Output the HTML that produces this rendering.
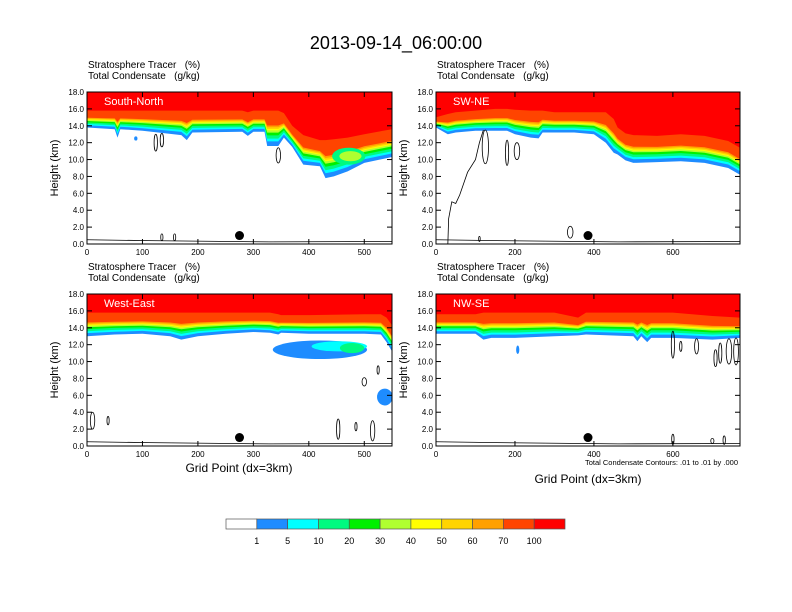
<!DOCTYPE html>
<html><head><meta charset="utf-8"><style>
body{margin:0;background:#fff;}
svg{display:block;font-family:"Liberation Sans",sans-serif;}
text{white-space:pre;}
</style></head><body>
<svg id="fig" width="792" height="612" viewBox="0 0 792 612" xmlns="http://www.w3.org/2000/svg">
<rect width="792" height="612" fill="#fff"/>
<text x="396" y="49" font-size="18" text-anchor="middle">2013-09-14_06:00:00</text>
</svg>
<script>
// ---- data ----
const levelLabels=["1","5","10","20","30","40","50","60","70","100"];
const levelColors=["#ffffff","#1e8cff","#00ffff","#00fa80","#00f000","#b0ff30","#ffff00","#ffd400","#ffa000","#ff4400","#ff0000"];
const levelFracs=[0,0.13,0.21,0.3,0.38,0.44,0.48,0.53,0.58];
const p1X=[0,50,55,60,100,170,180,190,280,290,300,320,325,345,355,370,390,420,430,445,470,500,550];
const p1Blue=[13.8,13.6,12.6,13.6,13.4,12.9,12.3,13.2,13.3,12.8,13.3,13.3,11.6,11.6,12.6,11.5,9.4,9.2,7.8,8.0,8.6,9.6,10.3];
const p1Red=[15.8,15.8,15.8,15.8,15.8,15.8,15.8,15.8,15.8,15.6,15.8,15.8,15.8,15.8,15.5,14.0,12.9,12.3,12.3,12.4,12.6,13.0,13.6];
const p2X=[0,30,50,100,150,180,200,240,260,270,300,350,400,430,450,460,480,500,560,620,680,740,770];
const p2Blue=[13.8,13.0,13.2,13.4,13.4,13.4,13.0,12.6,12.5,13.2,13.2,13.2,13.0,12.0,10.8,10.6,9.9,9.6,9.7,9.8,9.6,9.0,8.2];
const p2Red=[15.0,15.4,15.6,15.8,16.0,16.0,15.9,15.8,15.8,15.8,15.6,15.6,15.6,15.6,14.8,13.8,13.1,12.9,12.8,13.0,12.8,12.2,11.4];
const p3X=[0,50,100,150,170,200,250,300,330,345,350,400,500,530,540,550];
const p3Blue=[13.0,13.2,13.3,13.0,12.6,13.0,13.3,13.5,13.4,13.2,13.4,13.3,13.3,13.2,12.3,11.2];
const p3Red=[15.8,15.8,15.8,15.8,15.8,15.8,15.8,15.8,15.8,15.6,15.5,15.5,15.6,15.6,15.2,14.3];
const p4X=[0,100,120,140,200,300,360,380,500,510,520,535,545,600,700,770];
const p4Blue=[13.3,13.3,12.6,12.8,12.8,13.0,13.1,13.2,13.0,12.4,13.0,12.3,12.8,12.8,12.6,12.8];
const p4Red=[15.6,15.6,15.8,15.8,15.8,15.8,15.2,15.8,15.8,15.8,15.8,15.8,15.8,15.8,15.4,15.2];
// blobs: [x, km, rx(grid), ry(km), colorIndex]
const p1Blobs=[[472,10.4,30,1.0,3],[475,10.4,20,0.6,5],[88,12.5,3,0.25,1]];
const p2Blobs=[];
const p3Blobs=[[420,11.4,85,1.1,1],[455,11.8,50,0.6,2],[478,11.6,22,0.6,3],[537,5.8,14,1.0,1]];
const p4Blobs=[[207,11.4,4,0.5,1]];
// contours: [x, km, rx, ry]
const p1Cont=[[124,12,3,1],[135,12.3,3,0.8],[345,10.5,4,0.9],[135,0.8,2,0.4],[158,0.8,2,0.4]];
const p2Cont=[[125,11.5,8,2],[180,10.8,4,1.5],[205,11,7,1.0],[340,1.4,7,0.7],[110,0.6,2,0.3]];
const p3Cont=[[10,3,4,1],[38,3,2,0.5],[453,2,3,1.2],[485,2.3,2,0.5],[500,7.6,4,0.5],[515,1.8,4,1.2],[525,9,2,0.5]];
const p4Cont=[[600,12,4,1.6],[620,11.8,3,0.6],[660,11.8,5,0.9],[708,10.4,4,1],[720,11,4,1.2],[742,11.2,7,1.5],[760,11.2,6,1.6],[600,0.8,3,0.6],[700,0.6,4,0.3],[730,0.7,3,0.5]];
const p2Line=[[30,0],[32,3],[40,5],[50,4.8],[60,5.8],[80,8.5],[100,10],[110,12],[120,13.5]];
const panels=[
 {name:"south-north",label:"South-North",x0:87,y0:92,w:305,h:152,xmax:550,xticks:[0,100,200,300,400,500],X:p1X,B:p1Blue,R:p1Red,blobs:p1Blobs,cont:p1Cont,dot:275,line:null},
 {name:"sw-ne",label:"SW-NE",x0:436,y0:92,w:304,h:152,xmax:770,xticks:[0,200,400,600],X:p2X,B:p2Blue,R:p2Red,blobs:p2Blobs,cont:p2Cont,dot:385,line:p2Line},
 {name:"west-east",label:"West-East",x0:87,y0:294,w:305,h:152,xmax:550,xticks:[0,100,200,300,400,500],X:p3X,B:p3Blue,R:p3Red,blobs:p3Blobs,cont:p3Cont,dot:275,line:null},
 {name:"nw-se",label:"NW-SE",x0:436,y0:294,w:304,h:152,xmax:770,xticks:[0,200,400,600],X:p4X,B:p4Blue,R:p4Red,blobs:p4Blobs,cont:p4Cont,dot:385,line:null}
];
const yTicks=[0,2,4,6,8,10,12,14,16,18];
// ---- draw ----
const NS="http://www.w3.org/2000/svg";
const svg=document.getElementById('fig');
function mk(tag,attrs,parent){const e=document.createElementNS(NS,tag);for(const k in attrs)e.setAttribute(k,attrs[k]);(parent||svg).appendChild(e);return e;}
panels.forEach((p,pi)=>{
 const sx=v=>p.x0+v/p.xmax*p.w, sy=v=>p.y0+p.h-v/18*p.h;
 const g=mk('g',{});
 
 
 const cp=mk('clipPath',{id:'cp'+pi},g);mk('rect',{x:p.x0,y:p.y0,width:p.w,height:p.h},cp);
 const fg=mk('g',{'clip-path':'url(#cp'+pi+')'},g);
 for(let k=0;k<levelFracs.length;k++){
  let d='M'+sx(0)+','+sy(18.5);
  p.X.forEach((x,i)=>{const h=p.B[i]+(p.R[i]-p.B[i])*levelFracs[k];d+=' L'+sx(x).toFixed(1)+','+sy(h).toFixed(1);});
  d+=' L'+sx(p.xmax)+','+sy(18.5)+'Z';
  const e=mk('path',{d:d,fill:levelColors[k+1]},fg);
  
  
 }
 let d='M'+sx(0)+','+sy(18.5);
 p.X.forEach((x,i)=>{d+=' L'+sx(x).toFixed(1)+','+sy(p.R[i]).toFixed(1);});
 d+=' L'+sx(p.xmax)+','+sy(18.5)+'Z';
 const rr=mk('path',{d:d,fill:levelColors[10]},fg);
 
 
 p.blobs.forEach(b=>{
  const e=mk('ellipse',{cx:sx(b[0]),cy:sy(b[1]),rx:b[2]/p.xmax*p.w,ry:b[3]/18*p.h,fill:levelColors[b[4]]},fg);
  
  
 });
 p.cont.forEach(c=>{
  const e=mk('ellipse',{cx:sx(c[0]),cy:sy(c[1]),rx:c[2]/p.xmax*p.w,ry:c[3]/18*p.h,fill:'none',stroke:'#000','stroke-width':0.8},fg);
  
  
 });
 if(p.line){const e=mk('polyline',{points:p.line.map(q=>sx(q[0])+','+sy(q[1])).join(' '),fill:'none',stroke:'#000','stroke-width':0.8},fg);
  
  }
 const gl=mk('polyline',{points:[sx(0)+','+sy(0.5),sx(p.xmax*0.2)+','+sy(0.4),sx(p.xmax*0.6)+','+sy(0.25),sx(p.xmax)+','+sy(0.3)].join(' '),fill:'none',stroke:'#000','stroke-width':0.8},fg);
 
 
 const dot=mk('circle',{cx:sx(p.dot),cy:sy(1.0),r:4.5,fill:'#000'},g);
 
 
 const fr=mk('rect',{x:p.x0,y:p.y0,width:p.w,height:p.h,fill:'none',stroke:'#000','stroke-width':1},g);
 
 
 yTicks.forEach(v=>{
  mk('line',{x1:p.x0,x2:p.x0+5,y1:sy(v),y2:sy(v),stroke:'#000'},g);
  mk('line',{x1:p.x0+p.w,x2:p.x0+p.w-5,y1:sy(v),y2:sy(v),stroke:'#000'},g);
  const t=mk('text',{x:p.x0-3,y:sy(v)+3,'font-size':8,'text-anchor':'end'},g);t.textContent=v.toFixed(1);
  
  
 });
 p.xticks.forEach(v=>{
  mk('line',{x1:sx(v),x2:sx(v),y1:p.y0+p.h,y2:p.y0+p.h-5,stroke:'#000'},g);
  mk('line',{x1:sx(v),x2:sx(v),y1:p.y0,y2:p.y0+5,stroke:'#000'},g);
  const t=mk('text',{x:sx(v),y:p.y0+p.h+11,'font-size':8,'text-anchor':'middle'},g);t.textContent=v;
  
  
 });
 const lb=mk('text',{x:p.x0+17,y:p.y0+13,'font-size':11,fill:'#fff'},g);lb.textContent=p.label;
 
 
 const s1=mk('text',{x:p.x0+1,y:p.y0-24,'font-size':10},g);s1.textContent='Stratosphere Tracer   (%)';
 
 
 const s2=mk('text',{x:p.x0+1,y:p.y0-13,'font-size':10},g);s2.textContent='Total Condensate   (g/kg)';
 
 
 const yl=mk('text',{x:0,y:0,'font-size':11,'text-anchor':'middle',transform:'translate('+(p.x0-29)+','+(p.y0+p.h/2)+') rotate(-90)'},g);yl.textContent='Height (km)';
 
 
});
const xl1=mk('text',{x:239,y:472,'font-size':12,'text-anchor':'middle'});xl1.textContent='Grid Point (dx=3km)';


const xl2=mk('text',{x:588,y:483,'font-size':12,'text-anchor':'middle'});xl2.textContent='Grid Point (dx=3km)';


const ci=mk('text',{x:738,y:465,'font-size':7.5,'text-anchor':'end'});ci.textContent='Total Condensate Contours: .01 to .01 by .000';


// colorbar
const cb=mk('g',{});


const cbx=226,cbw=339/11;
levelColors.forEach((c,i)=>{
 const r=mk('rect',{x:cbx+i*cbw,y:519,width:cbw,height:10,fill:c,stroke:'#555','stroke-width':0.7},cb);
 
 
});
levelLabels.forEach((l,i)=>{
 const t=mk('text',{x:cbx+(i+1)*cbw,y:544,'font-size':9,'text-anchor':'middle'},cb);t.textContent=l;
 
 
});
</script>
</body></html>
